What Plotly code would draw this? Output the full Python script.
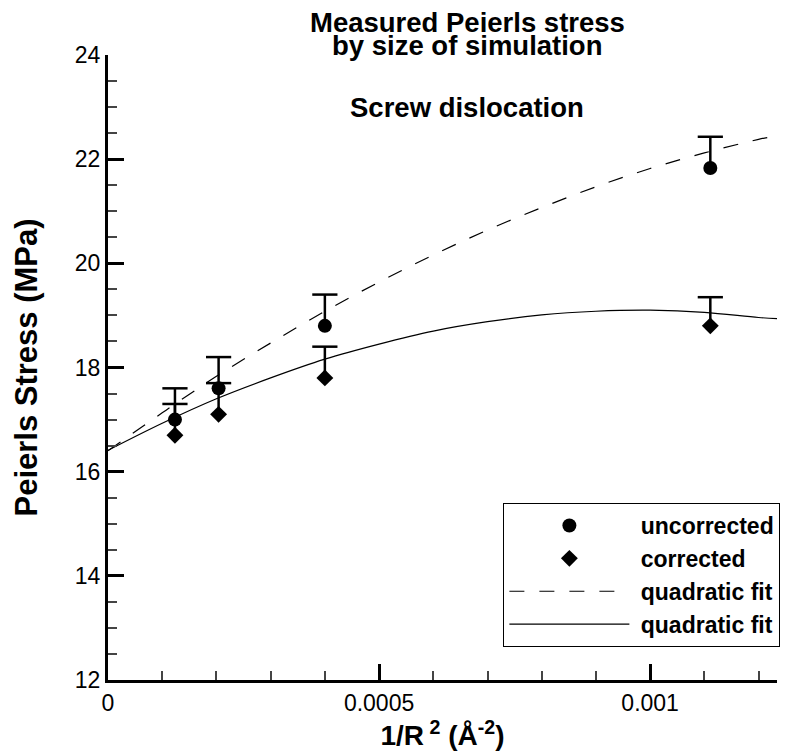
import plotly.graph_objects as go

# ---- data ----
inv_r2 = [0.0001235, 0.000204, 0.0004, 0.001111]          # 1/R^2 (Å^-2)
uncorrected = [17.0, 17.6, 18.8, 21.83]                    # MPa
corrected = [16.7, 17.1, 17.8, 18.8]                       # MPa
err_uncorrected = [0.6, 0.6, 0.6, 0.6]
err_corrected = [0.6, 0.6, 0.6, 0.55]
zeros = [0, 0, 0, 0]

fit_x = [0, 0.0001, 0.0002, 0.0003, 0.0004, 0.0005, 0.0006, 0.0007,
         0.0008, 0.0009, 0.001, 0.0011, 0.0012, 0.001234]
fit_uncorrected = [16.40, 17.13, 17.83, 18.47, 19.08, 19.64, 20.16, 20.64,
                   21.07, 21.47, 21.82, 22.12, 22.38, 22.45]
fit_corrected = [16.41, 16.93, 17.40, 17.80, 18.16, 18.45, 18.70, 18.88,
                 19.01, 19.08, 19.10, 19.06, 18.96, 18.94]

legend_names = ["uncorrected", "corrected", "quadratic fit", "quadratic fit"]
title_lines = ["Measured Peierls stress", "by size of simulation", "Screw dislocation"]
x_title = "1/R\u2009<sup>2</sup> (Å<sup>-2</sup>)"
y_title = "Peierls Stress (MPa)"

FONT = "Liberation Sans, Arial, sans-serif"

def lname(s):
    return "\u00a0<b>" + s + "</b>"

fig = go.Figure()
# error stems (no caps), caps added as separate marks at the top of each bar
fig.add_trace(go.Scatter(
    x=inv_r2, y=uncorrected, mode="markers", name=lname(legend_names[0]),
    marker=dict(symbol="circle", size=14, color="black"),
    error_y=dict(type="data", symmetric=False, array=err_uncorrected,
                 arrayminus=zeros, color="black", thickness=2.5, width=0),
))
fig.add_trace(go.Scatter(
    x=inv_r2, y=corrected, mode="markers", name=lname(legend_names[1]),
    marker=dict(symbol="diamond", size=13, color="black"),
    error_y=dict(type="data", symmetric=False, array=err_corrected,
                 arrayminus=zeros, color="black", thickness=2.5, width=0),
))
fig.add_trace(go.Scatter(
    x=fit_x, y=fit_uncorrected, mode="lines", name=lname(legend_names[2]),
    line=dict(color="black", width=1.2, dash="15px,15px", shape="spline"),
))
fig.add_trace(go.Scatter(
    x=fit_x, y=fit_corrected, mode="lines", name=lname(legend_names[3]),
    line=dict(color="black", width=1.2, shape="spline"),
))
for vals, errs in ((uncorrected, err_uncorrected), (corrected, err_corrected)):
    fig.add_trace(go.Scatter(
        x=inv_r2, y=[v + e for v, e in zip(vals, errs)], mode="markers",
        showlegend=False, hoverinfo="skip",
        marker=dict(symbol="line-ew", size=18, color="black",
                    line=dict(width=2.5, color="black")),
    ))

plot_top, plot_bottom = 55, 680
def py(p):
    return (plot_bottom - p) / (plot_bottom - plot_top)

title_mid = [22.5, 45.5, 107.5]
for txt, mid in zip(title_lines, title_mid):
    fig.add_annotation(text=f"<b>{txt}</b>", xref="paper", yref="paper",
                       x=0.537, y=py(mid), xanchor="center", yanchor="middle",
                       showarrow=False, font=dict(family=FONT, size=27.5, color="black"))

fig.update_layout(
    width=785, height=753,
    margin=dict(l=108, r=8, t=55, b=73, autoexpand=False),
    paper_bgcolor="white", plot_bgcolor="white",
    font=dict(family=FONT, color="black"),
    showlegend=True,
    legend=dict(x=0.591, y=py(503), xanchor="left", yanchor="top",
                bgcolor="white", bordercolor="black", borderwidth=1,
                font=dict(family=FONT, size=23, color="black"),
                itemwidth=120, tracegroupgap=0),
    xaxis=dict(range=[0, 0.001234], tick0=0, dtick=0.0005, tickformat="~g",
               automargin=False,
               ticks="inside", ticklen=16, tickwidth=3, tickcolor="black",
               minor=dict(tick0=0, dtick=0.0001, ticks="inside", ticklen=9,
                          tickwidth=1.5, tickcolor="#444"),
               showline=True, linewidth=3, linecolor="black",
               showgrid=False, zeroline=False,
               tickfont=dict(family=FONT, size=23, color="black"),
               title=dict(text=f"<b>{x_title}</b>", standoff=2,
                          font=dict(family=FONT, size=28, color="black"))),
    yaxis=dict(range=[12, 24], tick0=12, dtick=2,
               automargin=False,
               ticks="inside", ticklen=16, tickwidth=3, tickcolor="black",
               minor=dict(tick0=12, dtick=0.5, ticks="inside", ticklen=9,
                          tickwidth=1.5, tickcolor="#444"),
               showline=True, linewidth=3, linecolor="black",
               showgrid=False, zeroline=False,
               tickfont=dict(family=FONT, size=23, color="black"),
               title=dict(text=f"<b>{y_title}</b>", standoff=28,
                          font=dict(family=FONT, size=31, color="black"))),
)

fig.write_html("out.html")
